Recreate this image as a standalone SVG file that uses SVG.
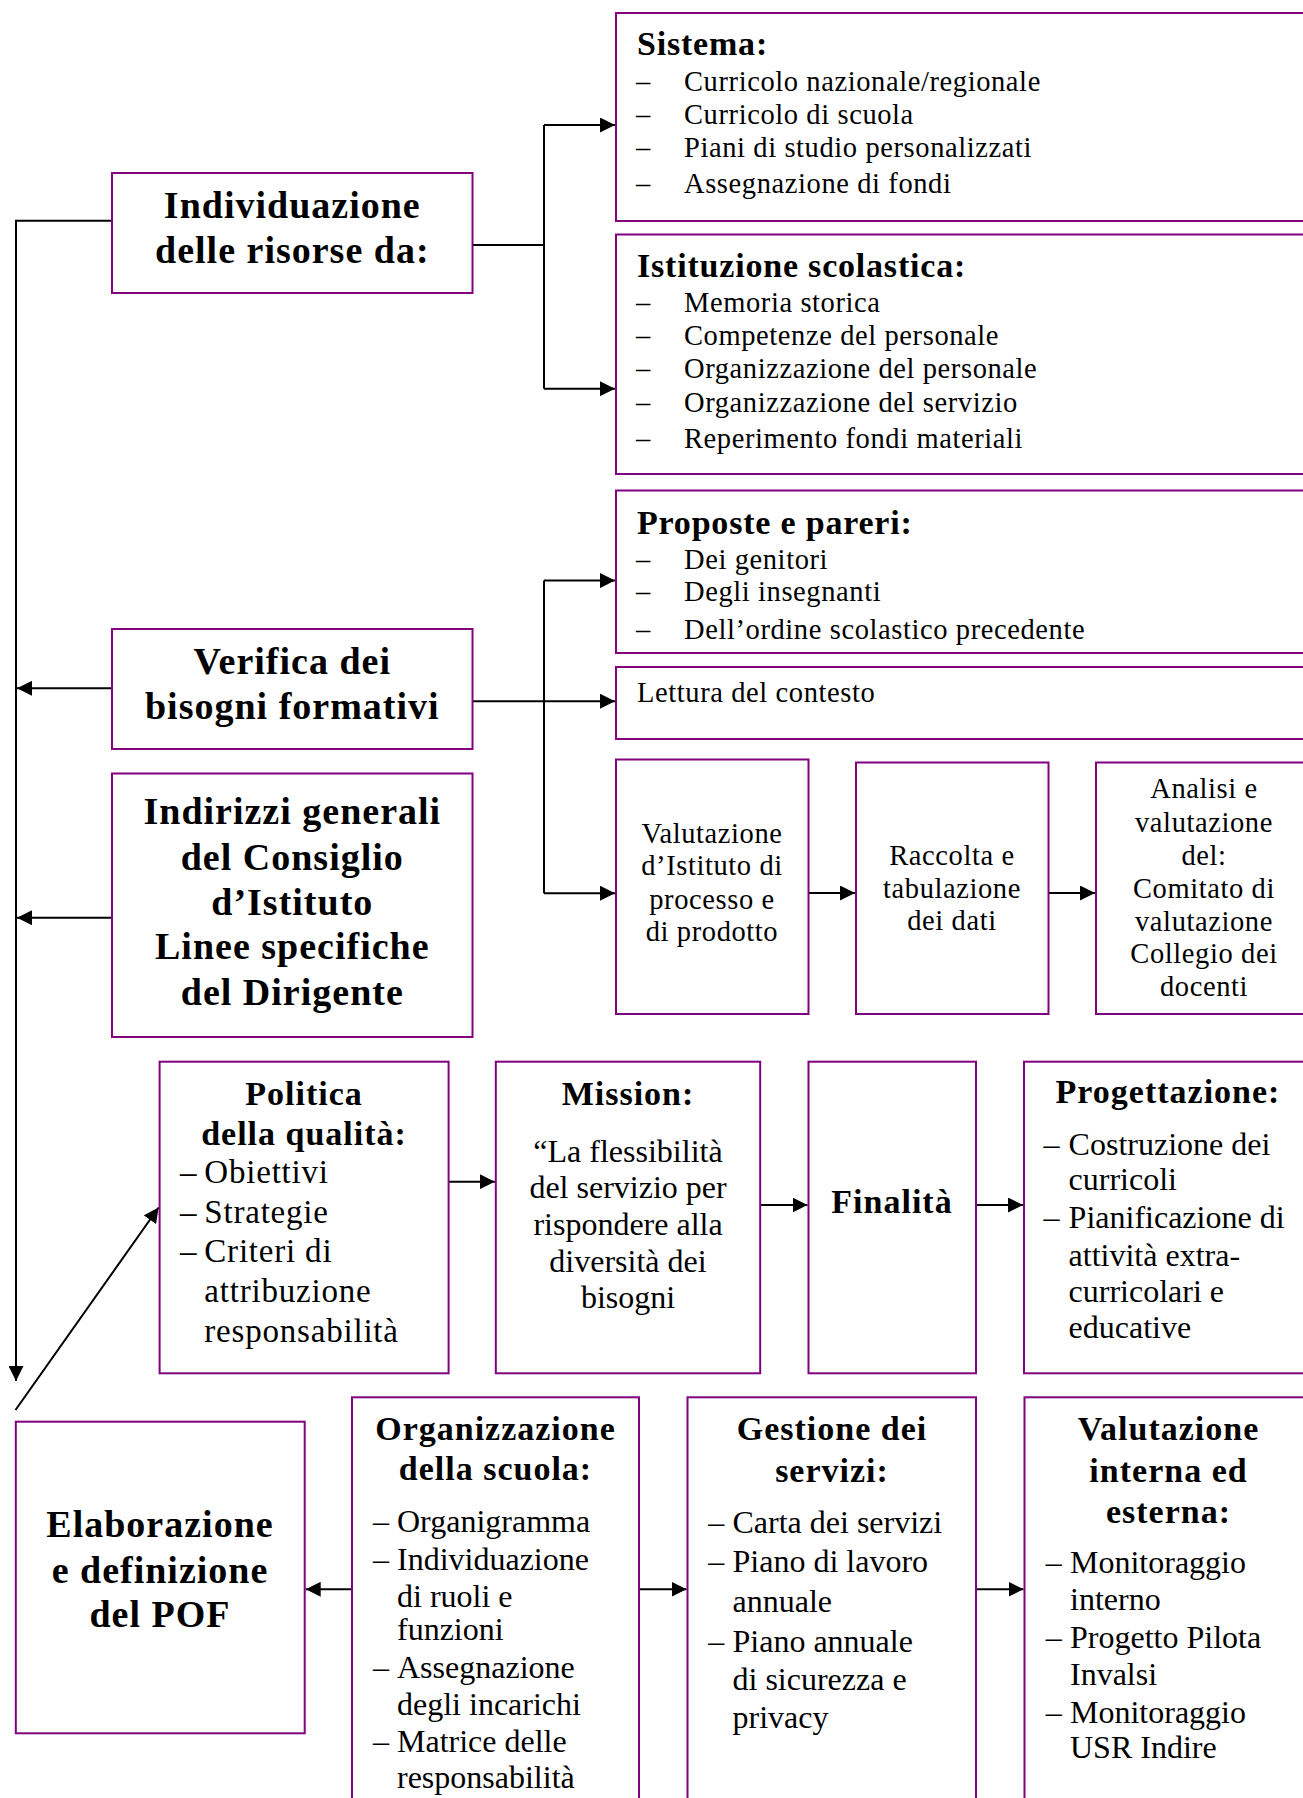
<svg xmlns="http://www.w3.org/2000/svg" width="1303" height="1798" viewBox="0 0 1303 1798">
<style>
text{font-family:"Liberation Serif","Times New Roman",serif;fill:#000}
.box{fill:#fff;stroke:#800080;stroke-width:2}
.con{fill:none;stroke:#000;stroke-width:2}
.tl{font-size:38px;font-weight:bold;letter-spacing:1px;text-anchor:middle}
.hd{font-size:34px;font-weight:bold;letter-spacing:0.8px}
.it{font-size:28.5px;letter-spacing:0.6px}
.itc{font-size:28.5px;letter-spacing:0.6px;text-anchor:middle}
.bh{font-size:34px;font-weight:bold;letter-spacing:1px;text-anchor:middle}
.pq{font-size:33px;letter-spacing:0.8px}
.lt{font-size:32px}
.ltc{font-size:32px;text-anchor:middle}
</style>
<defs>
<marker id="ah" markerUnits="userSpaceOnUse" markerWidth="16" markerHeight="15" refX="15" refY="7.5" orient="auto">
<path d="M0,0 L15,7.5 L0,15 Z" fill="#000"/>
</marker>
</defs>

<g id="connectors">
<path class="con" d="M112,220.7 H16 V1381" marker-end="url(#ah)"/>
<path class="con" d="M112,688.3 H17" marker-end="url(#ah)"/>
<path class="con" d="M112,917.7 H17" marker-end="url(#ah)"/>
<path class="con" d="M472.5,245 H544"/>
<path class="con" d="M544,125 V388.7"/>
<path class="con" d="M544,125 H615" marker-end="url(#ah)"/>
<path class="con" d="M544,388.7 H615" marker-end="url(#ah)"/>
<path class="con" d="M472.5,701.2 H615" marker-end="url(#ah)"/>
<path class="con" d="M544,580.6 V893.2"/>
<path class="con" d="M544,580.6 H615" marker-end="url(#ah)"/>
<path class="con" d="M544,893.2 H615" marker-end="url(#ah)"/>
<path class="con" d="M808.5,893 H855" marker-end="url(#ah)"/>
<path class="con" d="M1048.5,893 H1095" marker-end="url(#ah)"/>
<path class="con" d="M15.5,1410 L158.6,1207.5" marker-end="url(#ah)"/>
<path class="con" d="M448.6,1181.7 H494.8" marker-end="url(#ah)"/>
<path class="con" d="M760.2,1205 H807.5" marker-end="url(#ah)"/>
<path class="con" d="M976,1205 H1023" marker-end="url(#ah)"/>
<path class="con" d="M352,1589.3 H305.7" marker-end="url(#ah)"/>
<path class="con" d="M639,1589.3 H686.5" marker-end="url(#ah)"/>
<path class="con" d="M976,1589.3 H1023.5" marker-end="url(#ah)"/>
</g>

<g id="sistema">
<rect class="box" x="616" y="13" width="700" height="208"/>
<text class="hd" x="637" y="55">Sistema:</text>
<text class="it" x="636" y="90.7">–</text><text class="it" x="684" y="90.7">Curricolo nazionale/regionale</text>
<text class="it" x="636" y="124">–</text><text class="it" x="684" y="124">Curricolo di scuola</text>
<text class="it" x="636" y="156.7">–</text><text class="it" x="684" y="156.7">Piani di studio personalizzati</text>
<text class="it" x="636" y="193">–</text><text class="it" x="684" y="193">Assegnazione di fondi</text>
</g>

<g id="istituzione">
<rect class="box" x="616" y="234.5" width="700" height="239.5"/>
<text class="hd" x="637" y="276.7">Istituzione scolastica:</text>
<text class="it" x="636" y="311.7">–</text><text class="it" x="684" y="311.7">Memoria storica</text>
<text class="it" x="636" y="345">–</text><text class="it" x="684" y="345">Competenze del personale</text>
<text class="it" x="636" y="378">–</text><text class="it" x="684" y="378">Organizzazione del personale</text>
<text class="it" x="636" y="411.7">–</text><text class="it" x="684" y="411.7">Organizzazione del servizio</text>
<text class="it" x="636" y="448.3">–</text><text class="it" x="684" y="448.3">Reperimento fondi materiali</text>
</g>

<g id="proposte">
<rect class="box" x="616" y="490.5" width="700" height="162.5"/>
<text class="hd" x="637" y="533.6">Proposte e pareri:</text>
<text class="it" x="636" y="568.8">–</text><text class="it" x="684" y="568.8">Dei genitori</text>
<text class="it" x="636" y="601.3">–</text><text class="it" x="684" y="601.3">Degli insegnanti</text>
<text class="it" x="636" y="639">–</text><text class="it" x="684" y="639">Dell’ordine scolastico precedente</text>
</g>

<g id="lettura">
<rect class="box" x="616" y="667" width="700" height="72"/>
<text class="it" x="637" y="702">Lettura del contesto</text>
</g>

<g id="valutazione-istituto">
<rect class="box" x="616" y="759.5" width="192.5" height="254.5"/>
<text class="itc" x="712" y="842.6">Valutazione</text>
<text class="itc" x="712" y="875">d’Istituto di</text>
<text class="itc" x="712" y="909">processo e</text>
<text class="itc" x="712" y="940.6">di prodotto</text>
</g>

<g id="raccolta">
<rect class="box" x="856" y="762.5" width="192.5" height="251.5"/>
<text class="itc" x="952" y="864.8">Raccolta e</text>
<text class="itc" x="952" y="898">tabulazione</text>
<text class="itc" x="952" y="929.5">dei dati</text>
</g>

<g id="analisi">
<rect class="box" x="1096" y="762.5" width="216" height="251.5"/>
<text class="itc" x="1204" y="798">Analisi e</text>
<text class="itc" x="1204" y="831.5">valutazione</text>
<text class="itc" x="1204" y="864.8">del:</text>
<text class="itc" x="1204" y="898">Comitato di</text>
<text class="itc" x="1204" y="930.6">valutazione</text>
<text class="itc" x="1204" y="962.8">Collegio dei</text>
<text class="itc" x="1204" y="996">docenti</text>
</g>

<g id="individuazione">
<rect class="box" x="112" y="173" width="360.5" height="120"/>
<text class="tl" x="292.3" y="218.3">Individuazione</text>
<text class="tl" x="292.3" y="263.3">delle risorse da:</text>
</g>

<g id="verifica">
<rect class="box" x="112" y="629" width="360.5" height="120"/>
<text class="tl" x="292.3" y="674">Verifica dei</text>
<text class="tl" x="292.3" y="718.6">bisogni formativi</text>
</g>

<g id="indirizzi">
<rect class="box" x="112" y="773.5" width="360.5" height="263.5"/>
<text class="tl" x="292.3" y="824">Indirizzi generali</text>
<text class="tl" x="292.3" y="870">del Consiglio</text>
<text class="tl" x="292.3" y="915">d’Istituto</text>
<text class="tl" x="292.3" y="959">Linee specifiche</text>
<text class="tl" x="292.3" y="1005">del Dirigente</text>
</g>

<g id="politica">
<rect class="box" x="159.6" y="1061.7" width="289" height="311.6"/>
<text class="bh" x="304" y="1105">Politica</text>
<text class="bh" x="304" y="1145">della qualità:</text>
<text class="pq" x="180" y="1183.3">–</text><text class="pq" x="204.3" y="1183.3">Obiettivi</text>
<text class="pq" x="180" y="1223.3">–</text><text class="pq" x="204.3" y="1223.3">Strategie</text>
<text class="pq" x="180" y="1261.7">–</text><text class="pq" x="204.3" y="1261.7">Criteri di</text>
<text class="pq" x="204.3" y="1301.7">attribuzione</text>
<text class="pq" x="204.3" y="1341.7">responsabilità</text>
</g>

<g id="mission">
<rect class="box" x="495.8" y="1061.7" width="264.4" height="311.6"/>
<text class="bh" x="628" y="1105">Mission:</text>
<text class="ltc" x="628" y="1161.7">“La flessibilità</text>
<text class="ltc" x="628" y="1198.3">del servizio per</text>
<text class="ltc" x="628" y="1235">rispondere alla</text>
<text class="ltc" x="628" y="1271.7">diversità dei</text>
<text class="ltc" x="628" y="1308.3">bisogni</text>
</g>

<g id="finalita">
<rect class="box" x="808.5" y="1061.7" width="167.5" height="311.6"/>
<text class="bh" x="892" y="1213.3">Finalità</text>
</g>

<g id="progettazione">
<rect class="box" x="1024" y="1061.7" width="290" height="311.6"/>
<text class="bh" x="1168" y="1103.3">Progettazione:</text>
<text class="lt" x="1043.6" y="1155">–</text><text class="lt" x="1068.6" y="1155">Costruzione dei</text>
<text class="lt" x="1068.6" y="1190">curricoli</text>
<text class="lt" x="1043.6" y="1228.3">–</text><text class="lt" x="1068.6" y="1228.3">Pianificazione di</text>
<text class="lt" x="1068.6" y="1266">attività extra-</text>
<text class="lt" x="1068.6" y="1301.7">curricolari e</text>
<text class="lt" x="1068.6" y="1338.3">educative</text>
</g>

<g id="elaborazione">
<rect class="box" x="15.8" y="1421.7" width="288.9" height="311.6"/>
<text class="tl" x="160" y="1536.7">Elaborazione</text>
<text class="tl" x="160" y="1583.3">e definizione</text>
<text class="tl" x="160" y="1626.7">del POF</text>
</g>

<g id="organizzazione">
<rect class="box" x="352" y="1397.3" width="287" height="420"/>
<text class="bh" x="495.5" y="1440">Organizzazione</text>
<text class="bh" x="495.5" y="1480">della scuola:</text>
<text class="lt" x="373" y="1531.7">–</text><text class="lt" x="397" y="1531.7">Organigramma</text>
<text class="lt" x="373" y="1570">–</text><text class="lt" x="397" y="1570">Individuazione</text>
<text class="lt" x="397" y="1606.7">di ruoli e</text>
<text class="lt" x="397" y="1640">funzioni</text>
<text class="lt" x="373" y="1678.3">–</text><text class="lt" x="397" y="1678.3">Assegnazione</text>
<text class="lt" x="397" y="1715">degli incarichi</text>
<text class="lt" x="373" y="1751.7">–</text><text class="lt" x="397" y="1751.7">Matrice delle</text>
<text class="lt" x="397" y="1788.3">responsabilità</text>
</g>

<g id="gestione">
<rect class="box" x="687.5" y="1397.3" width="288.5" height="420"/>
<text class="bh" x="832" y="1440">Gestione dei</text>
<text class="bh" x="832" y="1481.7">servizi:</text>
<text class="lt" x="708.3" y="1533.3">–</text><text class="lt" x="732.5" y="1533.3">Carta dei servizi</text>
<text class="lt" x="708.3" y="1571.7">–</text><text class="lt" x="732.5" y="1571.7">Piano di lavoro</text>
<text class="lt" x="732.5" y="1611.7">annuale</text>
<text class="lt" x="708.3" y="1651.7">–</text><text class="lt" x="732.5" y="1651.7">Piano annuale</text>
<text class="lt" x="732.5" y="1690">di sicurezza e</text>
<text class="lt" x="732.5" y="1728.3">privacy</text>
</g>

<g id="valutazione-interna">
<rect class="box" x="1024.5" y="1397.3" width="290" height="420"/>
<text class="bh" x="1168.5" y="1440">Valutazione</text>
<text class="bh" x="1168.5" y="1481.7">interna ed</text>
<text class="bh" x="1168.5" y="1523.3">esterna:</text>
<text class="lt" x="1045.7" y="1573.3">–</text><text class="lt" x="1070" y="1573.3">Monitoraggio</text>
<text class="lt" x="1070" y="1610">interno</text>
<text class="lt" x="1045.7" y="1648.3">–</text><text class="lt" x="1070" y="1648.3">Progetto Pilota</text>
<text class="lt" x="1070" y="1685">Invalsi</text>
<text class="lt" x="1045.7" y="1723.3">–</text><text class="lt" x="1070" y="1723.3">Monitoraggio</text>
<text class="lt" x="1070" y="1758.3">USR Indire</text>
</g>
</svg>
